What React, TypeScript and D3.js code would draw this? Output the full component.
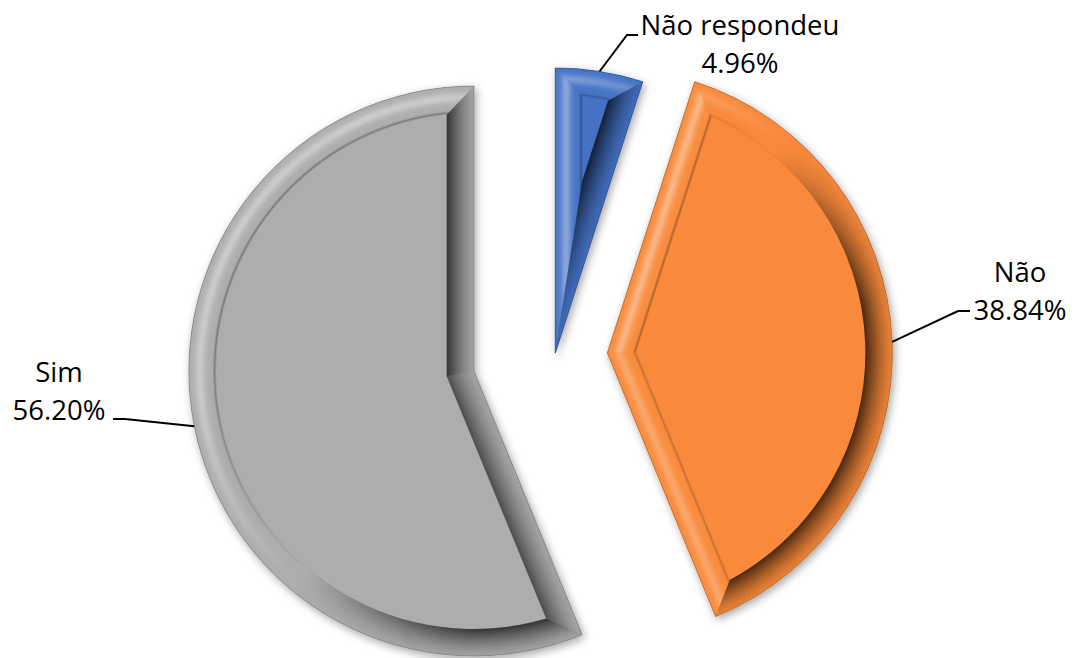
import React from 'react';
import * as d3 from 'd3';

// ---- data ----
const categories = ['Não respondeu', 'Não', 'Sim'];
const values = [4.96, 38.84, 56.2];

// ---- style / layout ----
const W = 1075;
const H = 658;
const CX = 555;
const CY = 355;
const R = 285;
const BEVEL = 27;
const colors = ['#4472C4', '#F98A3B', '#ADADAD'];
const explode = [0.007, 0.184, 0.29];
const LIGHT: [number, number] = [-0.77, -0.64];
const DARK_GAIN = 1.7;
const LIT_GAIN = 1.4;
const FONT = "'Open Sans', 'Noto Sans', sans-serif";
const FONT_SIZE = 27.5;
const LINE_GAP = 38;
// label text centre / first baseline, leader elbow and leader end
const labelLayout = [
  { x: 740, y: 35, elbow: [627, 35], end: [638, 35] },
  { x: 1020, y: 282, elbow: [958, 311], end: [970, 311] },
  { x: 59, y: 382, elbow: [125, 419], end: [113, 419] },
];

type P = [number, number];
const dir = (a: number): P => [Math.sin(a), -Math.cos(a)];
const dot = (a: P, b: P) => a[0] * b[0] + a[1] * b[1];

const darkProfile = (t: number) => 0.7 * (0.1 + 0.9 * Math.pow(t, 1.4));
const litProfile = (t: number) => 0.02 + 0.36 * Math.exp(-Math.pow((t - 0.4) / 0.18, 2));
const lineProfile = (t: number) => 0.3 * Math.exp(-Math.pow((t - 0.95) / 0.04, 2));
const clamp01 = (v: number) => Math.max(0, Math.min(1, v));

function shade(base: string, f: number, t: number) {
  const c = d3.rgb(base);
  const kd = clamp01(-f * DARK_GAIN);
  const kl = clamp01(f * LIT_GAIN);
  const ad = kd * darkProfile(t);
  const al = kl * litProfile(t);
  const aline = kl * lineProfile(t);
  const ch = (v: number) => {
    let x = v * (1 - ad);
    x = x + (255 - x) * al;
    x = x * (1 - aline);
    return x;
  };
  return d3.rgb(ch(c.r), ch(c.g), ch(c.b)).formatHex();
}

const TS = [0, 0.04, 0.1, 0.2, 0.3, 0.4, 0.5, 0.6, 0.7, 0.8, 0.88, 0.92, 0.95, 0.98, 1];

function Slice({ arc, i }: { arc: d3.PieArcDatum<number>; i: number }) {
  const a0 = arc.startAngle;
  const a1 = arc.endAngle;
  const mid = (a0 + a1) / 2;
  const th = a1 - a0;
  const w = BEVEL;
  const base = colors[i];
  const dm = dir(mid);
  const off = explode[i] * R;
  const tx = CX + dm[0] * off;
  const ty = CY + dm[1] * off;
  const u0 = dir(a0);
  const u1 = dir(a1);
  const n0: P = [Math.cos(a0), Math.sin(a0)];
  const n1: P = [-Math.cos(a1), -Math.sin(a1)];
  const k = w / Math.sin(th / 2);
  const pin: P = [dm[0] * k, dm[1] * k];
  const tt = Math.sqrt((R - w) ** 2 - w * w);
  const A0: P = [u0[0] * tt + n0[0] * w, u0[1] * tt + n0[1] * w];
  const A1: P = [u1[0] * tt + n1[0] * w, u1[1] * tt + n1[1] * w];
  const P0: P = [u0[0] * R, u0[1] * R];
  const P1: P = [u1[0] * R, u1[1] * R];
  const s = a0 - Math.PI / 2;
  const e = a1 - Math.PI / 2;
  const angA0 = Math.atan2(A0[1], A0[0]);
  const angA1 = Math.atan2(A1[1], A1[0]);

  const outer = d3.path();
  outer.moveTo(0, 0);
  outer.lineTo(P0[0], P0[1]);
  outer.arc(0, 0, R, s, e, false);
  outer.closePath();

  const face = d3.path();
  face.moveTo(pin[0], pin[1]);
  face.lineTo(A0[0], A0[1]);
  face.arc(0, 0, R - w, angA0, angA1, false);
  face.closePath();

  const band = d3.path();
  band.moveTo(P0[0], P0[1]);
  band.arc(0, 0, R, s, e, false);
  band.lineTo(A1[0], A1[1]);
  band.arc(0, 0, R - w, angA1, angA0, true);
  band.closePath();

  const edge0 = d3.path();
  edge0.moveTo(0, 0);
  edge0.lineTo(P0[0], P0[1]);
  edge0.lineTo(A0[0], A0[1]);
  edge0.lineTo(pin[0], pin[1]);
  edge0.closePath();

  const edge1 = d3.path();
  edge1.moveTo(0, 0);
  edge1.lineTo(pin[0], pin[1]);
  edge1.lineTo(A1[0], A1[1]);
  edge1.lineTo(P1[0], P1[1]);
  edge1.closePath();

  const f0 = -dot(n0, LIGHT);
  const f1 = -dot(n1, LIGHT);

  const tsRev = [...TS].reverse();
  const rOff = (t: number) => (R - t * w) / R;
  const M = R + 60;
  // mask gradient offsets: offset o corresponds to facing f = 1 - 2o
  const darkFull = (1 + 1 / DARK_GAIN) / 2;
  const litFull = (1 - 1 / LIT_GAIN) / 2;

  const edgeGrad = (id: string, n: P, f: number) => (
    <linearGradient id={id} gradientUnits="userSpaceOnUse" x1={0} y1={0} x2={n[0] * w} y2={n[1] * w}>
      {TS.map((t) => (
        <stop key={t} offset={t} stopColor={shade(base, f, t)} />
      ))}
    </linearGradient>
  );

  return (
    <g transform={`translate(${tx},${ty})`}>
      <defs>
        {edgeGrad(`e0-${i}`, n0, f0)}
        {edgeGrad(`e1-${i}`, n1, f1)}
        <radialGradient id={`rd-${i}`} gradientUnits="userSpaceOnUse" cx={0} cy={0} r={R} fx={0} fy={0}>
          {tsRev.map((t) => (
            <stop key={t} offset={rOff(t)} stopColor="#000" stopOpacity={darkProfile(t)} />
          ))}
        </radialGradient>
        <radialGradient id={`rl-${i}`} gradientUnits="userSpaceOnUse" cx={0} cy={0} r={R} fx={0} fy={0}>
          {tsRev.map((t) => (
            <stop key={t} offset={rOff(t)} stopColor="#fff" stopOpacity={litProfile(t)} />
          ))}
        </radialGradient>
        <radialGradient id={`rn-${i}`} gradientUnits="userSpaceOnUse" cx={0} cy={0} r={R} fx={0} fy={0}>
          {tsRev.map((t) => (
            <stop key={t} offset={rOff(t)} stopColor="#000" stopOpacity={lineProfile(t)} />
          ))}
        </radialGradient>
        <linearGradient
          id={`mgd-${i}`}
          gradientUnits="userSpaceOnUse"
          x1={LIGHT[0] * R}
          y1={LIGHT[1] * R}
          x2={-LIGHT[0] * R}
          y2={-LIGHT[1] * R}
        >
          <stop offset={0} stopColor="#000" />
          <stop offset={0.5} stopColor="#000" />
          <stop offset={darkFull} stopColor="#fff" />
          <stop offset={1} stopColor="#fff" />
        </linearGradient>
        <linearGradient
          id={`mgl-${i}`}
          gradientUnits="userSpaceOnUse"
          x1={LIGHT[0] * R}
          y1={LIGHT[1] * R}
          x2={-LIGHT[0] * R}
          y2={-LIGHT[1] * R}
        >
          <stop offset={0} stopColor="#fff" />
          <stop offset={litFull} stopColor="#fff" />
          <stop offset={0.5} stopColor="#000" />
          <stop offset={1} stopColor="#000" />
        </linearGradient>
        <mask id={`md-${i}`} maskUnits="userSpaceOnUse" x={-M} y={-M} width={2 * M} height={2 * M}>
          <rect x={-M} y={-M} width={2 * M} height={2 * M} fill={`url(#mgd-${i})`} />
        </mask>
        <mask id={`ml-${i}`} maskUnits="userSpaceOnUse" x={-M} y={-M} width={2 * M} height={2 * M}>
          <rect x={-M} y={-M} width={2 * M} height={2 * M} fill={`url(#mgl-${i})`} />
        </mask>
      </defs>
      <g filter="url(#softShadow)">
        <path d={outer.toString()} fill={d3.rgb(base).darker(0.6).formatHex()} />
        <path d={face.toString()} fill={base} />
        <path d={edge0.toString()} fill={`url(#e0-${i})`} stroke={`url(#e0-${i})`} strokeWidth={0.4} />
        <path d={edge1.toString()} fill={`url(#e1-${i})`} stroke={`url(#e1-${i})`} strokeWidth={0.4} />
        <path d={band.toString()} fill={base} />
        <path d={band.toString()} fill={`url(#rd-${i})`} mask={`url(#md-${i})`} />
        <path d={band.toString()} fill={`url(#rl-${i})`} mask={`url(#ml-${i})`} />
        <path d={band.toString()} fill={`url(#rn-${i})`} mask={`url(#ml-${i})`} />
        <path
          d={outer.toString()}
          fill="none"
          stroke={d3.rgb(base).darker(0.9).formatHex()}
          strokeWidth={1}
          strokeOpacity={0.7}
        />
      </g>
    </g>
  );
}

export default function App() {
  const pie = d3.pie<number>().sort(null).value((d) => d);
  const arcs = pie(values);
  const total = d3.sum(values);

  return (
    <svg
      width={W}
      height={H}
      viewBox={`0 0 ${W} ${H}`}
      style={{ position: 'absolute', left: 0, top: 0, background: '#fff' }}
    >
      <defs>
        <filter id="softShadow" x="-15%" y="-15%" width="130%" height="130%">
          <feGaussianBlur in="SourceAlpha" stdDeviation="4" />
          <feOffset dx="1.5" dy="2.5" result="blur" />
          <feFlood floodColor="#000" floodOpacity="0.35" />
          <feComposite in2="blur" operator="in" />
          <feMerge>
            <feMergeNode />
            <feMergeNode in="SourceGraphic" />
          </feMerge>
        </filter>
      </defs>
      <rect x={0} y={0} width={W} height={H} fill="#fff" />
      {arcs.map((a, i) => (
        <Slice key={categories[i]} arc={a} i={i} />
      ))}
      {arcs.map((a, i) => {
        const mid = (a.startAngle + a.endAngle) / 2;
        const dm = dir(mid);
        const off = explode[i] * R;
        const sx = CX + dm[0] * (off + R);
        const sy = CY + dm[1] * (off + R);
        const lp = labelLayout[i];
        const pct = `${((a.value / total) * 100).toFixed(2)}%`;
        return (
          <g key={`lab-${i}`}>
            <polyline
              points={`${sx},${sy} ${lp.elbow[0]},${lp.elbow[1]} ${lp.end[0]},${lp.end[1]}`}
              fill="none"
              stroke="#000"
              strokeWidth={2}
            />
            <text x={lp.x} y={lp.y} textAnchor="middle" fontFamily={FONT} fontSize={FONT_SIZE} fill="#000">
              <tspan x={lp.x}>{categories[i]}</tspan>
              <tspan x={lp.x} dy={LINE_GAP}>
                {pct}
              </tspan>
            </text>
          </g>
        );
      })}
    </svg>
  );
}
